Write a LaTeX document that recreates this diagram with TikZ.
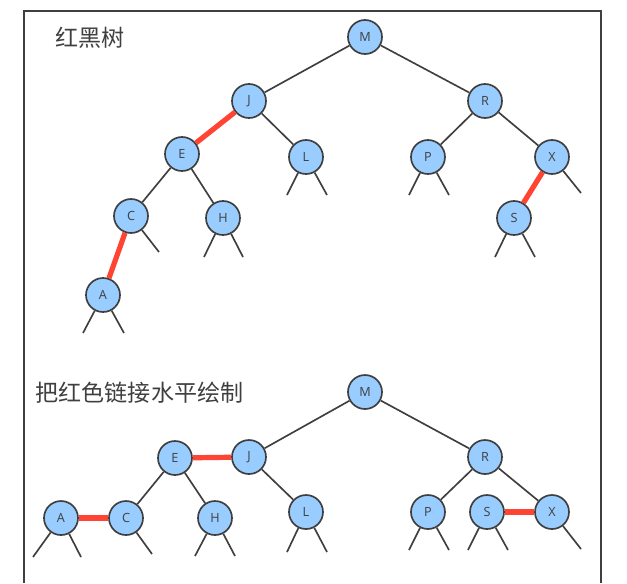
\documentclass[tikz,border=0pt]{standalone}
\usepackage{fontspec}
\setmainfont{Open Sans}
\newfontfamily\cjk{Noto Sans CJK SC}
\usetikzlibrary{calc,positioning}
\definecolor{nodeblue}{HTML}{99CCFF}
\definecolor{edgegray}{HTML}{3F3F3F}
\definecolor{redlink}{HTML}{FF4433}

\begin{document}
\begin{tikzpicture}[
    x=0.75pt, y=-0.75pt,
    font=\fontsize{9.5}{11}\selectfont,
    vertex/.style={circle, draw=edgegray, line width=1.25pt, fill=nodeblue,
      minimum size=25.5pt, inner sep=0pt, text=edgegray},
    black link/.style={draw=edgegray, line width=1.25pt},
    red link/.style={draw=redlink, line width=3.9pt},
    title/.style={anchor=west, text=edgegray, font=\cjk\fontsize{17.3}{19}\selectfont}]

    \useasboundingbox (0,0) rectangle (627,583);

    % frame
    \draw[edgegray, line width=1.4pt] (24,583) -- (24,11) -- (601,11) -- (601,583);

    % titles

    \node[title] (t1) at (51,38) {红黑树};
    \node[title] (t2) at (31,393) {把红色链接水平绘制};

    % vertices, red-black tree

    \node[vertex] (M) at (365,37) {M};

    \node[vertex] (J) at (249,101) {J};
    \node[vertex] (R) at (485,101) {R};

    \node[vertex] (E) at (182,154) {E};
    \node[vertex] (L) at (306,157) {L};
    \node[vertex] (P) at (428,157) {P};
    \node[vertex] (X) at (552,157) {X};

    \node[vertex] (C) at (131,216) {C};
    \node[vertex] (H) at (223,218) {H};
    \node[vertex] (S) at (514,218) {S};

    \node[vertex] (A) at (103,295) {A};

    % empty links

    \coordinate (Al) at (83,333);
    \coordinate (Ar) at (124,333);
    \coordinate (Cr) at (159,252);
    \coordinate (Hl) at (204,257);
    \coordinate (Hr) at (243,257);
    \coordinate (Ll) at (287,195);
    \coordinate (Lr) at (327,195);
    \coordinate (Pl) at (409,195);
    \coordinate (Pr) at (449,195);
    \coordinate (Sl) at (495,257);
    \coordinate (Sr) at (535,257);
    \coordinate (Xr) at (581,193);

    % edges

    \draw[black link] (M) to (J);
    \draw[black link] (M) to (R);
    \draw[red link] (J) to (E);
    \draw[black link] (J) to (L);
    \draw[black link] (R) to (P);
    \draw[black link] (R) to (X);
    \draw[black link] (E) to (C);
    \draw[black link] (E) to (H);
    \draw[red link] (C) to (A);
    \draw[red link] (X) to (S);

    \draw[black link] (A) to (Al);
    \draw[black link] (A) to (Ar);
    \draw[black link] (C) to (Cr);
    \draw[black link] (H) to (Hl);
    \draw[black link] (H) to (Hr);
    \draw[black link] (L) to (Ll);
    \draw[black link] (L) to (Lr);
    \draw[black link] (P) to (Pl);
    \draw[black link] (P) to (Pr);
    \draw[black link] (S) to (Sl);
    \draw[black link] (S) to (Sr);
    \draw[black link] (X) to (Xr);

    % vertices, red links drawn flat

    \node[vertex] (M2) at (365,392) {M};

    \node[vertex] (E2) at (175,458) {E};
    \node[vertex] (J2) at (249,457) {J};
    \node[vertex] (R2) at (485,457) {R};

    \node[vertex] (A2) at (61,518) {A};
    \node[vertex] (C2) at (126,518) {C};
    \node[vertex] (H2) at (215,518) {H};
    \node[vertex] (L2) at (306,512) {L};
    \node[vertex] (P2) at (428,512) {P};
    \node[vertex] (S2) at (487,512) {S};
    \node[vertex] (X2) at (552,512) {X};

    % empty links

    \coordinate (Al2) at (33,557);
    \coordinate (Ar2) at (81,557);
    \coordinate (Cr2) at (152,554);
    \coordinate (Hl2) at (195,556);
    \coordinate (Hr2) at (235,556);
    \coordinate (Ll2) at (287,552);
    \coordinate (Lr2) at (327,552);
    \coordinate (Pl2) at (409,550);
    \coordinate (Pr2) at (449,550);
    \coordinate (Sl2) at (468,550);
    \coordinate (Sr2) at (508,550);
    \coordinate (Xr2) at (581,549);

    % edges

    \draw[black link] (M2) to (J2);
    \draw[black link] (M2) to (R2);
    \draw[red link] (E2) to (J2);
    \draw[black link] (J2) to (L2);
    \draw[black link] (E2) to (C2);
    \draw[black link] (E2) to (H2);
    \draw[red link] (A2) to (C2);
    \draw[black link] (R2) to (P2);
    \draw[black link] (R2) to (X2);
    \draw[red link] (S2) to (X2);

    \draw[black link] (A2) to (Al2);
    \draw[black link] (A2) to (Ar2);
    \draw[black link] (C2) to (Cr2);
    \draw[black link] (H2) to (Hl2);
    \draw[black link] (H2) to (Hr2);
    \draw[black link] (L2) to (Ll2);
    \draw[black link] (L2) to (Lr2);
    \draw[black link] (P2) to (Pl2);
    \draw[black link] (P2) to (Pr2);
    \draw[black link] (S2) to (Sl2);
    \draw[black link] (S2) to (Sr2);
    \draw[black link] (X2) to (Xr2);
  \end{tikzpicture}
\end{document}
